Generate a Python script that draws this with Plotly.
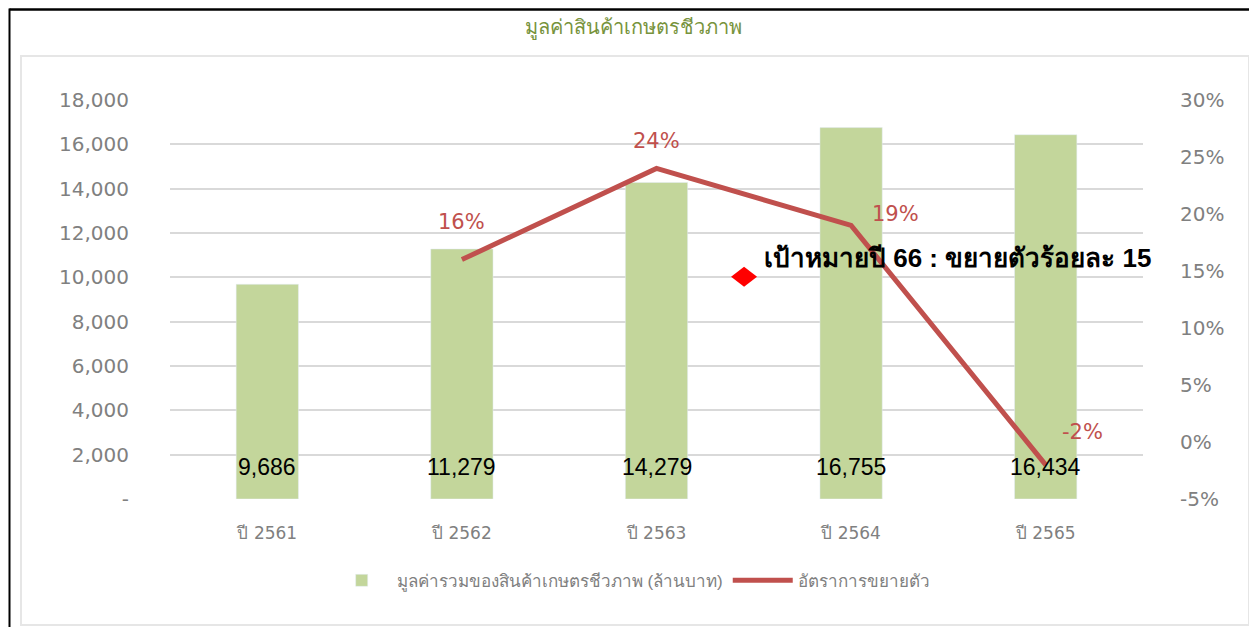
import plotly.graph_objects as go

categories = ["ปี 2561", "ปี 2562", "ปี 2563", "ปี 2564", "ปี 2565"]
values = [9686, 11279, 14279, 16755, 16434]
growth_x = ["ปี 2562", "ปี 2563", "ปี 2564", "ปี 2565"]
growth = [16, 24, 19, -2]
growth_labels = ["16%", "24%", "19%", "-2%"]
label_offsets = [(0, -38), (0, -27), (44, -11), (37, -33)]

y_ticks = [0, 2000, 4000, 6000, 8000, 10000, 12000, 14000, 16000, 18000]
y_ticktext = ["-", "2,000", "4,000", "6,000", "8,000", "10,000", "12,000", "14,000", "16,000", "18,000"]
y2_ticks = [-5, 0, 5, 10, 15, 20, 25, 30]
y2_ticktext = ["-5%", "0%", "5%", "10%", "15%", "20%", "25%", "30%"]

title_text = "มูลค่าสินค้าเกษตรชีวภาพ"
bar_name = "มูลค่ารวมของสินค้าเกษตรชีวภาพ (ล้านบาท)"
line_name = "อัตราการขยายตัว"
target_text = "เป้าหมายปี 66 : ขยายตัวร้อยละ 15"
target_x = 2.45
target_y = 14.5

BAR_COLOR = "#c3d69b"
LINE_COLOR = "#c0504d"
GRAY = "#808080"
FONT = "Liberation Sans, Noto Sans, sans-serif"
WFONT = "DejaVu Sans, Noto Sans, sans-serif"

fig = go.Figure()
fig.add_trace(go.Bar(x=categories, y=values, name=bar_name, marker_color=BAR_COLOR,
                     width=0.32, yaxis="y"))
fig.add_trace(go.Scatter(x=growth_x, y=growth, name=line_name, mode="lines",
                         line=dict(color=LINE_COLOR, width=5), yaxis="y2"))

ann = []
for c, v in zip(categories, values):
    ann.append(dict(x=c, y=1450, xref="x", yref="y", text=f"{v:,}", showarrow=False,
                    font=dict(size=23, color="#000000", family=FONT)))
for c, g, t, (dx, dy) in zip(growth_x, growth, growth_labels, label_offsets):
    ann.append(dict(x=c, y=g, xref="x", yref="y2", text=t, showarrow=False,
                    xshift=dx, yshift=-dy, font=dict(size=21, color=LINE_COLOR, family=WFONT)))
ann.append(dict(x=target_x, y=target_y, xref="x", yref="y2", text="<b>" + target_text + "</b>",
                showarrow=False, xanchor="left", xshift=18, yshift=19,
                font=dict(size=26, color="#000000", family=FONT)))
ann.append(dict(x=0.476, y=1.1805, xref="paper", yref="paper", text=title_text, showarrow=False,
                xanchor="center", yanchor="middle",
                font=dict(size=20, color="#77933c", family=FONT)))

shapes = [
    dict(type="path", xref="x", yref="y2", xsizemode="pixel", ysizemode="pixel",
         xanchor=target_x, yanchor=target_y, path="M -13,0 L 0,10 L 13,0 L 0,-10 Z",
         fillcolor="#ff0000", line=dict(width=0)),
    dict(type="rect", xref="paper", yref="paper", x0=-0.15314, x1=1.10894, y0=-0.31579, y1=1.11028,
         line=dict(color="#e6e6e6", width=2), layer="below"),
    dict(type="line", xref="paper", yref="paper", x0=-0.16495, x1=-0.16495, y0=-0.33, y1=1.2293,
         line=dict(color="#000000", width=2)),
    dict(type="line", xref="paper", yref="paper", x0=-0.16495, x1=1.12, y0=1.2268, y1=1.2268,
         line=dict(color="#000000", width=2.5)),
]

fig.update_layout(
    width=1249, height=619,
    margin=dict(l=162, r=114, t=92, b=128),
    paper_bgcolor="white", plot_bgcolor="white",
    font=dict(family=FONT, color=GRAY),
    showlegend=True,
    legend=dict(orientation="h", x=0.474, xanchor="center", y=-0.205, yanchor="middle",
                font=dict(size=17, color=GRAY), itemwidth=60, traceorder="normal"),
    xaxis=dict(type="category", range=[-0.5, 4.5], autorange=False, showgrid=False,
               showline=False, ticks="",
               tickfont=dict(size=17, color=GRAY, family=WFONT), ticklabelstandoff=22),
    yaxis=dict(range=[0, 18000], autorange=False, tickvals=y_ticks, ticktext=y_ticktext,
               showgrid=True, gridcolor="#d9d9d9", gridwidth=1.5, zeroline=False, ticks="",
               tickfont=dict(size=20, color=GRAY, family=WFONT), ticklabelstandoff=40),
    yaxis2=dict(range=[-5, 30], autorange=False, tickvals=y2_ticks, ticktext=y2_ticktext,
                overlaying="y", side="right", showgrid=False, zeroline=False, ticks="",
                tickfont=dict(size=20, color=GRAY, family=WFONT), ticklabelstandoff=36),
    annotations=ann,
    shapes=shapes,
)

fig.write_html("out.html")
